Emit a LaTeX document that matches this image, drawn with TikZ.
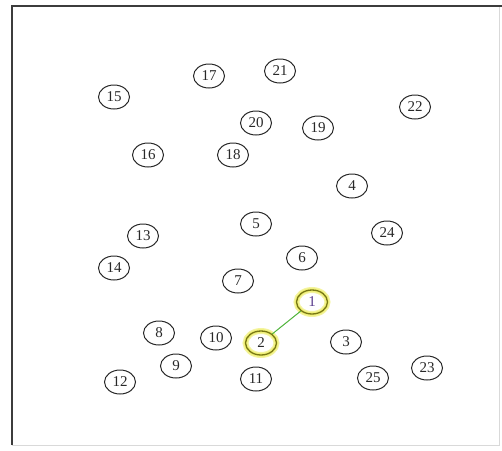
\documentclass[tikz,border=0pt]{standalone}
\usepackage{fontspec}
\setmainfont{Liberation Serif}
\usetikzlibrary{shapes.geometric}
\definecolor{nodeink}{RGB}{40,40,40}
\definecolor{frameink}{RGB}{60,60,60}
\definecolor{linkgreen}{RGB}{80,180,60}
\definecolor{hlring}{RGB}{120,120,20}
\definecolor{hlglow}{RGB}{240,240,120}
\definecolor{hltext}{RGB}{90,60,140}
\tikzset{vert/.style={draw=nodeink,ellipse,minimum width=31pt,minimum height=24pt,inner sep=0pt,font=\fontsize{15}{15}\selectfont,text=nodeink,line width=1pt},
  hl/.style={vert,draw=hlring,line width=1.3pt,preaction={draw=hlglow!70,line width=6pt},preaction={draw=hlglow,line width=3.5pt}},
  link/.style={linkgreen,line width=1pt}}

\begin{document}
\begin{tikzpicture}[x=1pt,y=-1pt]
\useasboundingbox (0,0) rectangle (502,450);
\draw[gray!30,line width=0.8pt] (499,6) -- (499,445) -- (12,445);
\draw[frameink,line width=1.4pt] (12,445) -- (12,6) -- (502,6);
\node[vert] (n15) at (114,97) {15};
\node[vert] (n17) at (209,76) {17};
\node[vert] (n21) at (280,71) {21};
\node[vert] (n22) at (415,107) {22};
\node[vert] (n20) at (256,123) {20};
\node[vert] (n19) at (318,128) {19};
\node[vert] (n16) at (148,155) {16};
\node[vert] (n18) at (233,155) {18};
\node[vert] (n4) at (352,186) {4};
\node[vert] (n5) at (256,224) {5};
\node[vert] (n13) at (143,236) {13};
\node[vert] (n24) at (387,233) {24};
\node[vert] (n6) at (302,258) {6};
\node[vert] (n14) at (114,268) {14};
\node[vert] (n7) at (238,281) {7};
\node[hl,text=hltext] (n1) at (312,302) {1};
\node[vert] (n8) at (159,333) {8};
\node[vert] (n10) at (216,338) {10};
\node[hl] (n2) at (261,343) {2};
\node[vert] (n3) at (346,342) {3};
\node[vert] (n9) at (176,366) {9};
\node[vert] (n23) at (427,368) {23};
\node[vert] (n12) at (120,382) {12};
\node[vert] (n11) at (256,379) {11};
\node[vert] (n25) at (373,378) {25};
\draw[link] (n1)--(n2);
\end{tikzpicture}
\end{document}
